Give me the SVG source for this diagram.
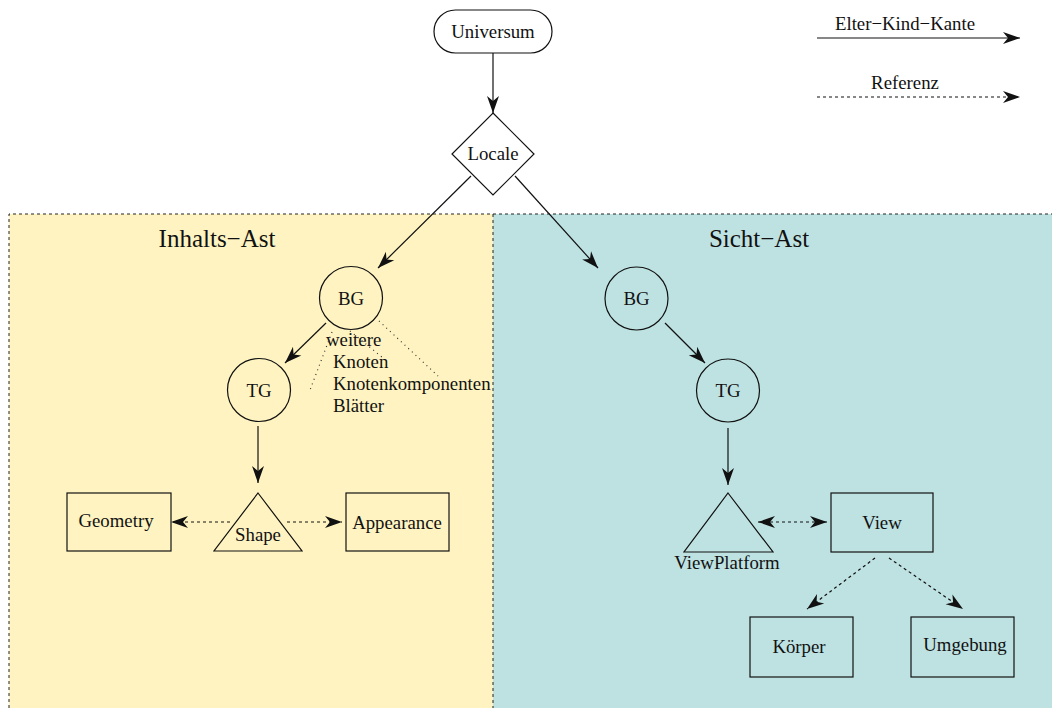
<svg xmlns="http://www.w3.org/2000/svg" width="1052" height="708" viewBox="0 0 1052 708">
  <style>
    text { font-family: "Liberation Serif", "Times New Roman", serif; font-size: 18.8px; fill: #111; }
    .mid { text-anchor: middle; }
    .title { font-size: 25px; }
    .shape { fill: none; stroke: #111; stroke-width: 1.2; }
    .edge { fill: none; stroke: #111; stroke-width: 1.2; }
    .ref { fill: none; stroke: #111; stroke-width: 1.2; stroke-dasharray: 3 3; }
    .hint { fill: none; stroke: #333; stroke-width: 1.2; stroke-dasharray: 1 4; }
    .frame { fill: none; stroke: #222; stroke-width: 1; stroke-dasharray: 3 3; }
  </style>
  <defs>
    <marker id="head" markerUnits="userSpaceOnUse" markerWidth="20" markerHeight="14" viewBox="-18 -7 20 14" refX="0" refY="0" orient="auto-start-reverse">
      <path d="M0,0 L-17,-6 L-12,0 L-17,6 Z" fill="#111"/>
    </marker>
  </defs>

  <rect width="1052" height="708" fill="#ffffff"/>

  <!-- content branch and view branch panels -->
  <g id="panels">
    <rect x="9" y="214" width="484" height="500" fill="#fff4c1"/>
    <rect x="493" y="214" width="565" height="500" fill="#bee2e2"/>
    <path class="frame" d="M9,714 V214 H1052 M493,214 V708"/>
    <text class="title mid" x="217" y="247">Inhalts−Ast</text>
    <text class="title mid" x="759" y="247">Sicht−Ast</text>
  </g>

  <!-- legend -->
  <g id="legend">
    <text class="mid" x="905" y="30">Elter−Kind−Kante</text>
    <line class="edge" x1="817" y1="38" x2="1020" y2="38" marker-end="url(#head)"/>
    <text class="mid" x="905" y="89">Referenz</text>
    <line class="ref" x1="817" y1="97" x2="1020" y2="97" stroke-dasharray="3 2" marker-end="url(#head)"/>
  </g>

  <!-- connectors -->
  <g id="connectors">
    <line class="edge" x1="493" y1="53" x2="493" y2="113" marker-end="url(#head)"/>
    <line class="edge" x1="471" y1="176" x2="378" y2="268" marker-end="url(#head)"/>
    <line class="edge" x1="515" y1="176" x2="598" y2="268" marker-end="url(#head)"/>
    <line class="edge" x1="326" y1="323" x2="285" y2="363" marker-end="url(#head)"/>
    <line class="edge" x1="258" y1="426" x2="258" y2="483" marker-end="url(#head)"/>
    <line class="ref" x1="230" y1="522" x2="171" y2="522" marker-end="url(#head)"/>
    <line class="ref" x1="287" y1="522" x2="342" y2="522" marker-end="url(#head)"/>
    <line class="hint" x1="332" y1="332" x2="310" y2="390"/>
    <line class="hint" x1="350" y1="331" x2="383" y2="358"/>
    <line class="hint" x1="379" y1="321" x2="438" y2="376"/>
    <line class="edge" x1="665" y1="323" x2="705" y2="363" marker-end="url(#head)"/>
    <line class="edge" x1="728" y1="428" x2="728" y2="485" marker-end="url(#head)"/>
    <line class="ref" x1="758" y1="522" x2="827" y2="522" marker-start="url(#head)" marker-end="url(#head)"/>
    <line class="ref" x1="875" y1="558" x2="807" y2="609" marker-end="url(#head)"/>
    <line class="ref" x1="889" y1="558" x2="963" y2="609" marker-end="url(#head)"/>
  </g>

  <g id="universum">
    <rect class="shape" x="434" y="10" width="118" height="43" rx="21.5" fill="#fff"/>
    <text class="mid" x="493" y="38">Universum</text>
  </g>

  <g id="locale">
    <polygon class="shape" points="493,113 534,154 493,195 452,154" fill="#fff"/>
    <text class="mid" x="493" y="160">Locale</text>
  </g>

  <g id="bg-inhalt">
    <circle class="shape" cx="351" cy="298" r="31.5"/>
    <text class="mid" x="351" y="305">BG</text>
  </g>

  <g id="weitere">
    <text x="326" y="346">weitere</text>
    <text x="333" y="368">Knoten</text>
    <text x="333" y="390">Knotenkomponenten</text>
    <text x="333" y="412">Blätter</text>
  </g>

  <g id="tg-inhalt">
    <circle class="shape" cx="259" cy="390" r="31.5"/>
    <text class="mid" x="259" y="397">TG</text>
  </g>

  <g id="shape">
    <polygon class="shape" points="258,493 302,551 214,551"/>
    <text class="mid" x="258" y="541">Shape</text>
  </g>

  <g id="geometry">
    <rect class="shape" x="67" y="493" width="104" height="58"/>
    <text class="mid" x="116" y="527">Geometry</text>
  </g>

  <g id="appearance">
    <rect class="shape" x="346" y="493" width="103" height="58"/>
    <text class="mid" x="397" y="529">Appearance</text>
  </g>

  <g id="bg-sicht">
    <circle class="shape" cx="636.5" cy="298.5" r="31.5"/>
    <text class="mid" x="636.5" y="305">BG</text>
  </g>

  <g id="tg-sicht">
    <circle class="shape" cx="728" cy="390.5" r="31.5"/>
    <text class="mid" x="728" y="397">TG</text>
  </g>

  <g id="viewplatform">
    <polygon class="shape" points="728,493 773,552 684,552"/>
    <text class="mid" x="727" y="569">ViewPlatform</text>
  </g>

  <g id="view">
    <rect class="shape" x="831" y="493" width="102" height="59"/>
    <text class="mid" x="882" y="529">View</text>
  </g>

  <g id="koerper">
    <rect class="shape" x="750" y="617" width="103" height="60"/>
    <text class="mid" x="799" y="653">Körper</text>
  </g>

  <g id="umgebung">
    <rect class="shape" x="911" y="617" width="103" height="60"/>
    <text class="mid" x="965" y="651">Umgebung</text>
  </g>
</svg>
